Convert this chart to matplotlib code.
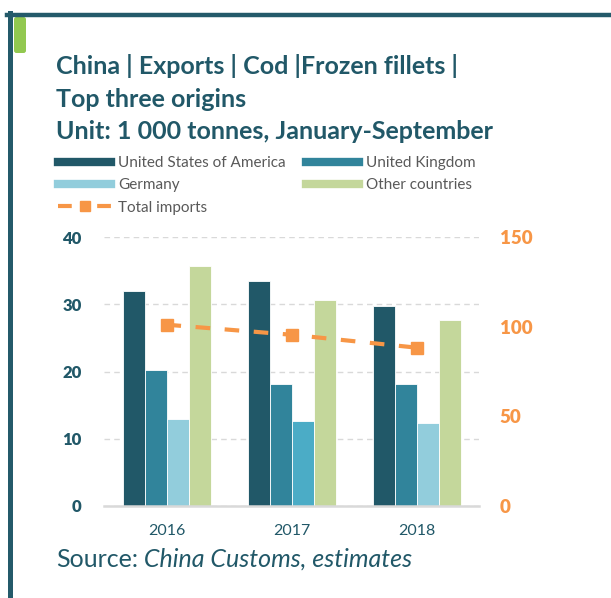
import matplotlib.pyplot as plt
from matplotlib.lines import Line2D
from matplotlib.patches import FancyBboxPatch
import numpy as np

years = ['2016', '2017', '2018']
usa = [32.0, 33.4, 29.8]
uk = [20.2, 18.2, 18.2]
germany = [13.0, 12.7, 12.4]
other = [35.7, 30.6, 27.6]
total = [101.1, 95.5, 88.3]
left_ticks = [0, 10, 20, 30, 40]
right_ticks = [0, 50, 100, 150]

dark = '#215868'
c_usa = '#215868'
c_uk = '#31849B'
c_ger = '#92CDDC'
c_ger_2017 = '#4BACC6'
c_oth = '#C4D79B'
orange = '#F79646'

plt.rcParams['font.family'] = ['Lato', 'DejaVu Sans']

fig = plt.figure(figsize=(6.11, 5.98), dpi=100)
W, H = 611, 598

# frame
fig.add_artist(Line2D([7 / W, 1], [1 - 15 / H, 1 - 15 / H], color='#245A6A', lw=3.2,
                      transform=fig.transFigure))
fig.add_artist(Line2D([10 / W, 10 / W], [1 - 13 / H, 0], color='#245A6A', lw=3.6,
                      transform=fig.transFigure))
fig.add_artist(FancyBboxPatch((14 / W, 1 - 53 / H), 12 / W, 36 / H,
                              boxstyle='round,pad=0,rounding_size=0.004',
                              transform=fig.transFigure, color='#92C850', lw=0))

# titles
for yb, t in [(74, 'China | Exports | Cod |Frozen fillets |'),
              (107, 'Top three origins'),
              (139, 'Unit: 1 000 tonnes, January-September')]:
    fig.text(56 / W, 1 - yb / H, t, fontsize=18, fontweight='bold', color=dark,
             va='baseline', ha='left')

ax = fig.add_axes([104 / W, 1 - 506 / H, 375 / W, 269 / H])
x = np.arange(len(years))
w = 0.176
ax.bar(x - 1.5 * w, usa, w, color=c_usa, edgecolor='white', lw=0.6, zorder=3)
ax.bar(x - 0.5 * w, uk, w, color=c_uk, edgecolor='white', lw=0.6, zorder=3)
ax.bar(x + 0.5 * w, germany, w, color=[c_ger, c_ger_2017, c_ger], edgecolor='white', lw=0.6, zorder=3)
ax.bar(x + 1.5 * w, other, w, color=c_oth, edgecolor='white', lw=0.6, zorder=3)

ax.set_xlim(-0.5, 2.5)
ax.set_ylim(0, 40)
ax.set_yticks(left_ticks, [str(v) for v in left_ticks], fontweight='heavy',
              fontsize=12, color=dark)
ax.set_xticks(x, years, fontsize=11.5, color=dark)
for s in ['top', 'right', 'left']:
    ax.spines[s].set_visible(False)
ax.spines['bottom'].set_color('#D9D9D9')
ax.spines['bottom'].set_linewidth(1.8)
ax.spines['bottom'].set_zorder(4)
ax.yaxis.grid(True, color='#D9D9D9', lw=1, linestyle=(0, (4, 3)), zorder=0)
ax.tick_params(axis='y', length=0, pad=16)
ax.tick_params(axis='x', length=0, pad=13)

ax2 = ax.twinx()
ax2.plot(x, total, color=orange, lw=3, linestyle=(0, (3.5, 3.5)),
         marker='s', markersize=8, zorder=5)
ax2.set_ylim(0, 150)
ax2.set_yticks(right_ticks, [str(v) for v in right_ticks], fontweight='heavy',
               fontsize=13.5, color=orange)
ax2.tick_params(axis='y', length=0, pad=15)
for s in ax2.spines.values():
    s.set_visible(False)

# source
t1 = fig.text(56 / W, 1 - 567 / H, 'Source:', fontsize=18, color=dark, va='baseline')
fig.canvas.draw()
bb = t1.get_window_extent()
fig.text(bb.x1 / W, 1 - 567 / H, ' China Customs, estimates', fontsize=18,
         color=dark, va='baseline', style='italic')

handles = [
    Line2D([], [], color=c_usa, lw=6),
    Line2D([], [], color=c_ger, lw=6),
    Line2D([], [], color=orange, lw=3, linestyle=(0, (3.3, 6.1)), marker='s', markersize=7),
    Line2D([], [], color=c_uk, lw=6),
    Line2D([], [], color=c_oth, lw=6),
]
labels = ['United States of America', 'Germany', 'Total imports',
          'United Kingdom', 'Other countries']
fig.legend(handles, labels, ncol=2, loc='upper left', bbox_to_anchor=(58 / W, 1 - 156 / H),
           frameon=False, fontsize=11, labelcolor='#595959', handlelength=3.5,
           handletextpad=0.45, columnspacing=1.3, borderpad=0, borderaxespad=0,
           labelspacing=0.55)

fig.savefig('out.png', dpi=100)
